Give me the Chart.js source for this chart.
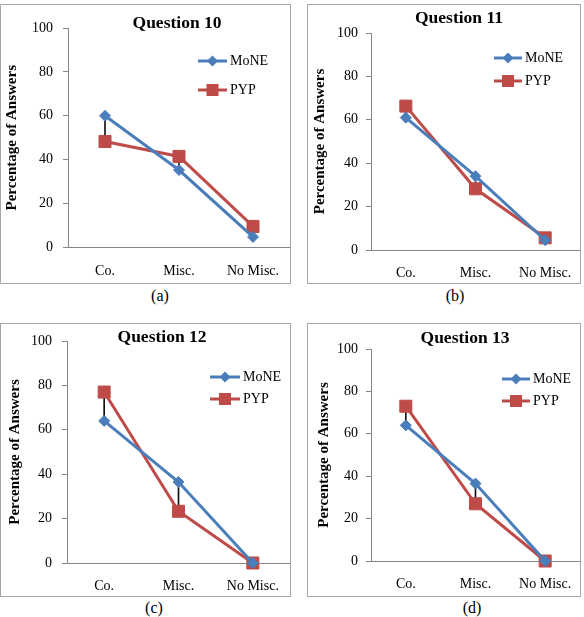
<!DOCTYPE html>
<html><head><meta charset="utf-8">
<script src="https://cdn.jsdelivr.net/npm/chart.js@4.4.1/dist/chart.umd.min.js"></script>
<style>
html,body{margin:0;padding:0;background:#fff;}
body{width:584px;height:617px;position:relative;overflow:hidden;font-family:'Liberation Serif','Times New Roman',serif;}
.panel{position:absolute;border:1px solid #a6a6a6;box-sizing:border-box;background:#fff;}
.panel canvas{position:absolute;left:0;top:0;}
.cap{position:absolute;font-size:16px;color:#000;transform:translate(-50%,-50%);white-space:nowrap;}
</style></head>
<body>
<script>
// ---- data ----
const categories = ['Co.', 'Misc.', 'No Misc.'];
const seriesNames = ['MoNE', 'PYP'];
const titles = ['Question 10', 'Question 11', 'Question 12', 'Question 13'];
const captions = ['(a)', '(b)', '(c)', '(d)'];
const q10MoNE = [60, 35.3, 4.8];
const q10PYP  = [48.3, 41.5, 9.6];
const q11MoNE = [61, 34, 4.5];
const q11PYP  = [66.3, 28.2, 5.6];
const q12MoNE = [64, 36.5, 0];
const q12PYP  = [77, 23.3, 0];
const q13MoNE = [64, 36.5, 0];
const q13PYP  = [73, 27, 0];
const yMin = 0, yMax = 100, yStep = 20;
const yAxisTitle = 'Percentage of Answers';

const mone = [q10MoNE, q11MoNE, q12MoNE, q13MoNE];
const pyp = [q10PYP, q11PYP, q12PYP, q13PYP];

// ---- layout (positions/styles) ----
const FONT = "'Liberation Serif','Times New Roman',serif";
const BLUE = '#4A7EBB', RED = '#BE4B48', AXIS = '#868686';
const panels = [
  {L:0,   T:4,   W:291, H:280, pl:2, yw:65, top:23, xh:35.5, tp:10, tX:176, tY:18, lx1:197, lx2:226, ly:[56,85], cx:160, cy:296},
  {L:307, T:4,   W:274, H:280, pl:3, yw:60, top:28, xh:33,   tp:8,  tX:151, tY:13, lx1:186, lx2:214, ly:[53,76], cx:455, cy:296},
  {L:0,   T:323, W:291, H:274, pl:5, yw:61, top:17, xh:33,   tp:10, tX:161, tY:13, lx1:209, lx2:239, ly:[53,75], cx:154, cy:608},
  {L:307, T:323, W:274, H:274, pl:7, yw:56, top:25, xh:35,   tp:8,  tX:157, tY:14, lx1:194, lx2:222, ly:[55,77], cx:472, cy:608}
];

const decor = {
  id: 'decor',
  afterDraw(chart, args, o) {
    const ctx = chart.ctx;
    ctx.save();
    ctx.fillStyle = '#000';
    ctx.font = 'bold 17.5px ' + FONT;
    ctx.textAlign = 'center';
    ctx.textBaseline = 'middle';
    ctx.fillText(o.title, o.tX, o.tY);
    const lines = chart.data.datasets.filter(d => d.type === 'line');
    lines.forEach((ds, i) => {
      const y = o.ly[i];
      ctx.strokeStyle = ds.borderColor;
      ctx.lineWidth = 3;
      ctx.beginPath(); ctx.moveTo(o.lx1, y); ctx.lineTo(o.lx2, y); ctx.stroke();
      const cx = (o.lx1 + o.lx2) / 2;
      ctx.fillStyle = ds.backgroundColor;
      ctx.beginPath();
      if (ds.pointStyle === 'rectRot') {
        const r = ds.pointRadius;
        ctx.moveTo(cx - r, y); ctx.lineTo(cx, y - r); ctx.lineTo(cx + r, y); ctx.lineTo(cx, y + r); ctx.closePath();
      } else {
        const h = ds.pointRadius * Math.SQRT1_2;
        ctx.rect(cx - h, y - h, 2 * h, 2 * h);
      }
      ctx.fill();
      ctx.fillStyle = '#000';
      ctx.font = '14px ' + FONT;
      ctx.textAlign = 'left';
      ctx.fillText(ds.label, o.lx2 + 3, y);
    });
    ctx.restore();
  }
};

panels.forEach((p, i) => {
  const div = document.createElement('div');
  div.className = 'panel';
  div.style.left = p.L + 'px'; div.style.top = p.T + 'px';
  div.style.width = p.W + 'px'; div.style.height = p.H + 'px';
  const cv = document.createElement('canvas');
  cv.width = p.W - 2; cv.height = p.H - 2;
  cv.style.width = (p.W - 2) + 'px'; cv.style.height = (p.H - 2) + 'px';
  div.appendChild(cv);
  document.body.appendChild(div);

  const cap = document.createElement('div');
  cap.className = 'cap';
  cap.textContent = captions[i];
  cap.style.left = p.cx + 'px'; cap.style.top = p.cy + 'px';
  document.body.appendChild(cap);

  const hiLo = categories.map((c, k) => [Math.min(mone[i][k], pyp[i][k]), Math.max(mone[i][k], pyp[i][k])]);

  new Chart(cv, {
    type: 'line',
    data: {
      labels: categories,
      datasets: [
        {type: 'line', label: seriesNames[0], data: mone[i], borderColor: BLUE, backgroundColor: BLUE,
         borderWidth: 3, pointStyle: 'rectRot', pointRadius: 5.5, pointBorderWidth: 1, pointBorderColor: BLUE,
         pointBackgroundColor: BLUE, tension: 0, clip: false, order: 1},
        {type: 'line', label: seriesNames[1], data: pyp[i], borderColor: RED, backgroundColor: RED,
         borderWidth: 3, pointStyle: 'rect', pointRadius: 8.5, pointBorderWidth: 1, pointBorderColor: RED,
         pointBackgroundColor: RED, tension: 0, clip: false, order: 2},
        {type: 'bar', label: 'hi-lo', data: hiLo, backgroundColor: '#111', borderWidth: 0,
         barThickness: 1, order: 10}
      ]
    },
    options: {
      responsive: false,
      animation: false,
      devicePixelRatio: 1,
      events: [],
      layout: {autoPadding: false, padding: {left: p.pl, top: p.top, right: 0, bottom: 0}},
      plugins: {
        legend: {display: false},
        tooltip: {enabled: false},
        title: {display: false},
        decor: {title: titles[i], tX: p.tX, tY: p.tY, lx1: p.lx1, lx2: p.lx2, ly: p.ly}
      },
      scales: {
        x: {
          type: 'category',
          offset: true,
          grid: {display: false, drawTicks: false, offset: true},
          border: {display: true, color: AXIS, width: 1},
          ticks: {color: '#000', font: {family: FONT, size: 14}, padding: 15, maxRotation: 0, autoSkip: false},
          afterFit: s => { s.height = p.xh; s.paddingLeft = 0; s.paddingRight = 0; }
        },
        y: {
          min: yMin, max: yMax,
          grid: {drawOnChartArea: false, drawTicks: true, tickLength: 5, color: AXIS},
          border: {display: true, color: AXIS, width: 1},
          ticks: {stepSize: yStep, color: '#000', font: {family: FONT, size: 14}, padding: p.tp},
          title: {display: true, text: yAxisTitle, color: '#000', font: {family: FONT, size: 15, weight: 'bold'}, padding: {top: 0, bottom: 0}},
          afterFit: s => { s.width = p.yw; s.paddingTop = 0; s.paddingBottom = 0; }
        }
      }
    },
    plugins: [decor]
  });
});
</script>
</body></html>
